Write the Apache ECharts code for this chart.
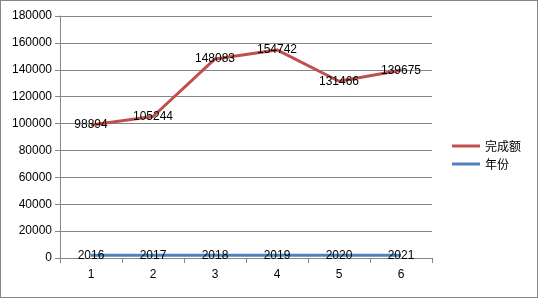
<!DOCTYPE html>
<html><head><meta charset="utf-8">
<script src="https://cdn.jsdelivr.net/npm/echarts@6/dist/echarts.min.js"></script>
<style>html,body{margin:0;padding:0;background:#fff}#c{width:538px;height:298px;box-sizing:border-box;border:1px solid #868686}</style>
</head><body><div id="c"></div>
<script>
const categories = ['1','2','3','4','5','6'];
const amount = [98894, 105244, 148083, 154742, 131466, 139675];
const years = [2016, 2017, 2018, 2019, 2020, 2021];
const seriesNames = ['完成额', '年份'];
const chart = echarts.init(document.getElementById('c'), null, {renderer:'canvas'});
const lbl = {show:true, position:'inside', color:'#000', fontSize:12, fontFamily:'Liberation Sans'};
chart.setOption({
  animation:false,
  grid:{left:59, right:105, top:15, bottom:39},
  legend:{orient:'vertical', left:446, top:134, itemWidth:28, itemHeight:3, itemGap:6, icon:'rect',
    textStyle:{fontSize:12, fontFamily:'Noto Sans CJK SC', color:'#000'}, data:seriesNames},
  xAxis:{type:'category', data:categories, boundaryGap:true,
    axisLine:{lineStyle:{color:'#868686'}}, axisTick:{show:true, length:5, lineStyle:{color:'#868686'}},
    axisLabel:{color:'#000', fontSize:12, fontFamily:'Liberation Sans', margin:11}},
  yAxis:{type:'value', min:0, max:180000, interval:20000,
    axisLine:{show:true, lineStyle:{color:'#868686'}}, axisTick:{show:true, length:5, lineStyle:{color:'#868686'}},
    splitLine:{lineStyle:{color:'#868686'}},
    axisLabel:{color:'#000', fontSize:12, fontFamily:'Liberation Sans', margin:8, formatter:function(v){return String(v);}}},
  series:[
    {name:seriesNames[0], type:'line', data:amount, symbol:'circle', symbolSize:0, color:'#C0504D',
      lineStyle:{width:3, color:'#C0504D'}, label:lbl, z:3},
    {name:seriesNames[1], type:'line', data:years, symbol:'circle', symbolSize:0, color:'#4F81BD',
      lineStyle:{width:3, color:'#4F81BD'}, label:lbl, z:2}
  ]
});
</script></body></html>
